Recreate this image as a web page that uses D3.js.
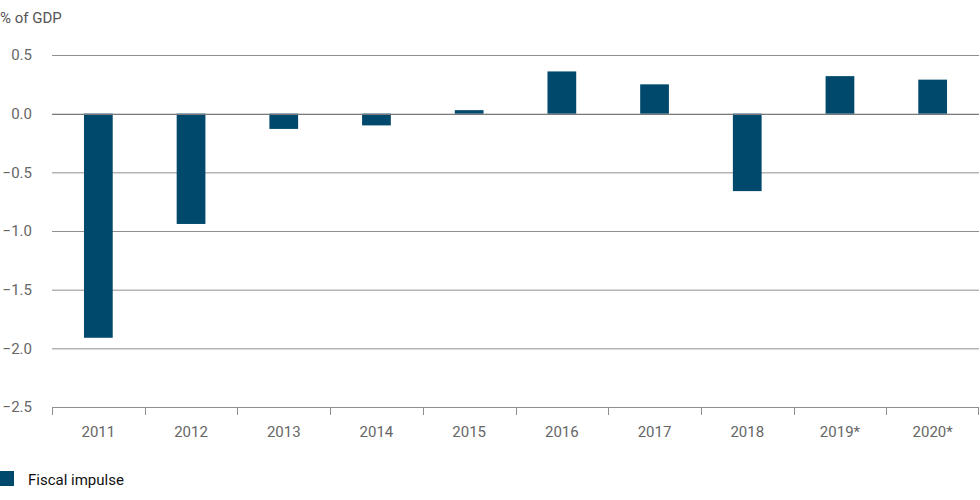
<!DOCTYPE html>
<html>
<head>
<meta charset="utf-8">
<script src="https://cdn.jsdelivr.net/npm/d3@7"></script>
<style>
  body { margin: 0; background: #fff; }
  text { font-family: Roboto, "Liberation Sans", sans-serif; }
</style>
</head>
<body>
<svg width="980" height="500"></svg>
<script>
// chart data
var years = ["2011", "2012", "2013", "2014", "2015", "2016", "2017", "2018", "2019*", "2020*"];
var impulse = [-1.91, -0.94, -0.13, -0.10, 0.03, 0.36, 0.25, -0.66, 0.32, 0.29];
var yTicks = [0.5, 0, -0.5, -1, -1.5, -2, -2.5];
var seriesName = "Fiscal impulse";
var unitLabel = "% of GDP";

var svg = d3.select("svg"),
    margin = {top: 55, right: 1, bottom: 93, left: 52},
    width = +svg.attr("width") - margin.left - margin.right,
    height = +svg.attr("height") - margin.top - margin.bottom,
    x = d3.scaleBand().domain(years).range([0, width]).paddingInner(0.69).paddingOuter(0.345),
    xb = d3.scaleBand().domain(years).range([0, width]),
    y = d3.scaleLinear().domain([-2.5, 0.5]).range([height, 0]),
    g = svg.append("g").attr("transform", "translate(" + margin.left + "," + margin.top + ")");

var data = years.map(function(d, i) { return {year: d, value: impulse[i]}; });

// horizontal grid lines + y labels
var grid = g.append("g")
    .call(d3.axisLeft(y).tickValues(yTicks).tickSize(-width).tickFormat(d3.format(".1f")));
grid.select(".domain").remove();
grid.selectAll(".tick line").attr("stroke", "#8f8f8f").attr("stroke-width", 1);
grid.selectAll(".tick text")
    .attr("x", -20)
    .attr("fill", "#666")
    .style("font-size", "15px");

// bars
g.selectAll(".bar")
  .data(data)
  .enter()
    .append("rect")
    .attr("class", "bar")
    .attr("x", function(d) { return x(d.year); })
    .attr("width", x.bandwidth())
    .attr("y", function(d) { return y(Math.max(0, d.value)); })
    .attr("height", function(d) { return Math.abs(y(d.value) - y(0)); })
    .attr("fill", "#00496d");

// zero line on top of the bars
g.append("line")
    .attr("x1", 0).attr("x2", width)
    .attr("y1", Math.round(y(0)) + 0.5).attr("y2", Math.round(y(0)) + 0.5)
    .attr("stroke", "#7a7a7a");

// bottom axis with ticks between the categories
var xAxis = g.append("g").attr("transform", "translate(0," + height + ")");
xAxis.append("line")
    .attr("x1", 0).attr("x2", width).attr("y1", 0.5).attr("y2", 0.5)
    .attr("stroke", "#8f8f8f");
xAxis.selectAll(".sep")
  .data(years.concat(["end"]))
  .enter()
    .append("line")
    .attr("class", "sep")
    .attr("x1", function(d, i) { return i < years.length ? Math.round(xb(d)) + 0.5 : width - 0.5; })
    .attr("x2", function(d, i) { return i < years.length ? Math.round(xb(d)) + 0.5 : width - 0.5; })
    .attr("y1", 0).attr("y2", 8)
    .attr("stroke", "#8f8f8f");
xAxis.selectAll(".lbl")
  .data(years)
  .enter()
    .append("text")
    .attr("class", "lbl")
    .attr("x", function(d) { return xb(d) + xb.bandwidth() / 2; })
    .attr("y", 30)
    .attr("text-anchor", "middle")
    .attr("fill", "#666")
    .style("font-size", "15px")
    .text(function(d) { return d; });

// unit label
svg.append("text")
    .attr("x", 0).attr("y", 23)
    .attr("fill", "#555")
    .style("font-size", "15px")
    .text(unitLabel);

// legend
svg.append("rect")
    .attr("x", 0).attr("y", 471).attr("width", 14).attr("height", 15)
    .attr("fill", "#00496d");
svg.append("text")
    .attr("x", 28).attr("y", 485)
    .attr("fill", "#111")
    .style("font-size", "15px")
    .text(seriesName);
</script>
</body>
</html>
